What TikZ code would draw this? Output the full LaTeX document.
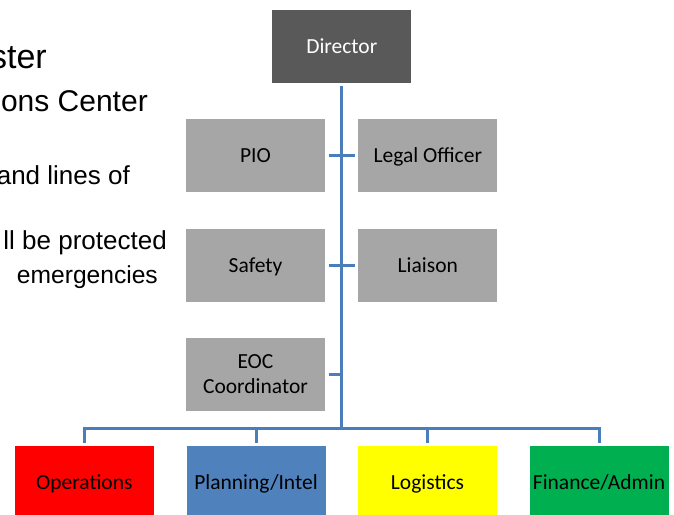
\documentclass[tikz,border=0pt]{standalone}
\usepackage{fontspec}
\setmainfont{Liberation Sans}
\newfontfamily\boxfont{Carlito}
\definecolor{dirgray}{HTML}{595959}
\definecolor{staffgray}{HTML}{A6A6A6}
\definecolor{opsred}{HTML}{FF0000}
\definecolor{planblue}{HTML}{4F81BD}
\definecolor{logyellow}{HTML}{FFFF00}
\definecolor{fingreen}{HTML}{00B050}
\definecolor{linkblue}{HTML}{4A7EBB}
\tikzset{
  orgbox/.style={minimum width=139pt, minimum height=73pt, inner sep=0pt,
    outer sep=3.5pt, align=center, text=black,
    font=\boxfont\fontsize{21.5}{26}\selectfont},
  oneline/.style={text height=18pt, text depth=4pt},
  staffbox/.style={orgbox, fill=staffgray},
  link/.style={draw=linkblue, line width=3pt, line join=miter},
  slidetext/.style={anchor=base east, inner sep=0pt, text=black}
}
\begin{document}
\begin{tikzpicture}[x=1pt, y=-1pt]
  \useasboundingbox (0,0) rectangle (674,514);
  \clip (0,0) rectangle (674,514);

  % bullet text of the slide, running off the left edge
  \node[slidetext, font=\fontsize{34}{40}\selectfont] (t1) at (47,68) {ster};
  \node[slidetext, font=\fontsize{30}{36}\selectfont] (t2) at (148,111) {ons Center};
  \node[slidetext, font=\fontsize{26}{31}\selectfont] (t3) at (130,184) {and lines of};
  \node[slidetext, font=\fontsize{26}{31}\selectfont] (t4) at (167,249) {ll be protected};
  \node[slidetext, font=\fontsize{24.6}{30}\selectfont] (t5) at (158,283) {emergencies};

  % command staff
  \node[orgbox, oneline, fill=dirgray, text=white] (dir) at (341.8,46.3) {Director};
  \node[staffbox, oneline] (pio)   at (255.5,155) {PIO};
  \node[staffbox, oneline] (legal) at (427.8,155) {Legal Officer};
  \node[staffbox, oneline] (safe)  at (255.5,265) {Safety};
  \node[staffbox, oneline] (liai)  at (427.8,265) {Liaison};
  \node[staffbox] (eoc)   at (255.5,374) {EOC\\[-1pt]Coordinator};

  % general staff sections
  \node[orgbox, oneline, fill=opsred]    (ops)  at (84.3,482.5)  {Operations};
  \node[orgbox, oneline, fill=planblue]  (plan) at (256,482.5)   {Planning/Intel};
  \node[orgbox, oneline, fill=logyellow] (logi) at (427.5,482.5) {Logistics};
  \node[orgbox, oneline, fill=fingreen]  (fin)  at (599,482.5)   {Finance/Admin};

  % connectors
  \coordinate (bus) at (341.8,428);
  \draw[link] (dir.south) -- (dir.south |- bus);
  \draw[link] (pio.east) -- (legal.west);
  \draw[link] (safe.east) -- (liai.west);
  \draw[link] (eoc.east) -- (dir.south |- eoc.east);
  \draw[link] (ops.north) -- (ops.north |- bus) -- (fin.north |- bus) -- (fin.north);
  \draw[link] (plan.north) -- (plan.north |- bus);
  \draw[link] (logi.north) -- (logi.north |- bus);
\end{tikzpicture}
\end{document}
